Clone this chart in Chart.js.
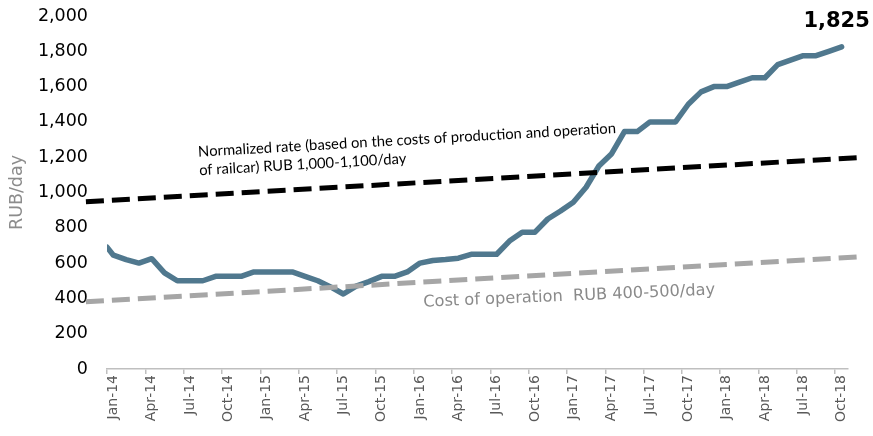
<!DOCTYPE html>
<html>
<head>
<meta charset="utf-8">
<script src="https://cdn.jsdelivr.net/npm/chart.js@4.4.1/dist/chart.umd.min.js"></script>
<style>
  html, body { margin: 0; padding: 0; background: #fff; }
  #wrap { width: 873px; height: 436px; position: relative; }
</style>
</head>
<body>
<div id="wrap"><canvas id="rateChart"></canvas></div>
<script>
// Monthly categories, Jan-14 .. Oct-18
const months = [
  'Jan-14','Feb-14','Mar-14','Apr-14','May-14','Jun-14','Jul-14','Aug-14','Sep-14','Oct-14','Nov-14','Dec-14',
  'Jan-15','Feb-15','Mar-15','Apr-15','May-15','Jun-15','Jul-15','Aug-15','Sep-15','Oct-15','Nov-15','Dec-15',
  'Jan-16','Feb-16','Mar-16','Apr-16','May-16','Jun-16','Jul-16','Aug-16','Sep-16','Oct-16','Nov-16','Dec-16',
  'Jan-17','Feb-17','Mar-17','Apr-17','May-17','Jun-17','Jul-17','Aug-17','Sep-17','Oct-17','Nov-17','Dec-17',
  'Jan-18','Feb-18','Mar-18','Apr-18','May-18','Jun-18','Jul-18','Aug-18','Sep-18','Oct-18'
];

// the line starts half a month before Jan-14
const rateStart = 690;
const rates = [
  645, 620, 600, 625, 545, 500, 500, 500, 525, 525, 525, 550,
  550, 550, 550, 525, 500, 465, 425, 470, 495, 525, 525, 550,
  600, 615, 620, 628, 650, 650, 650, 725, 775, 775, 850, 895,
  945, 1030, 1150, 1220, 1345, 1345, 1400, 1400, 1400, 1500, 1570, 1600,
  1600, 1625, 1650, 1650, 1725, 1750, 1775, 1775, 1800, 1825
];

// dashed reference lines, values at both ends (they run past the plot)
const trendEnds = [-2.15, 58.6];
const normRate = [948, 1199];
const opCost = [381, 637];

const normText = ['Normalized rate (based on the costs of production and operation',
                  'of railcar) RUB 1,000-1,100/day'];
const costText = 'Cost of operation  RUB 400-500/day';

const rateData = [{ x: -0.5, y: rateStart }].concat(rates.map((v, i) => ({ x: i, y: v })));
const toPoints = vals => vals.map((v, i) => ({ x: trendEnds[i], y: v }));

const notes = {
  id: 'notes',
  afterDatasetsDraw(chart) {
    const { ctx, scales: { x, y } } = chart;

    ctx.save();
    ctx.translate(x.getPixelForValue(6.65), y.getPixelForValue(1203));
    ctx.rotate(-3.25 * Math.PI / 180);
    ctx.font = '14.8px Lato';
    ctx.fillStyle = '#000';
    ctx.fillText(normText[0], 0, 0);
    ctx.fillText(normText[1], 0, 18.5);
    ctx.restore();

    ctx.save();
    ctx.translate(x.getPixelForValue(24.27), y.getPixelForValue(353));
    ctx.rotate(-2.4 * Math.PI / 180);
    ctx.font = '16.2px "DejaVu Sans"';
    ctx.fillStyle = '#8a8a8a';
    ctx.fillText(costText, 0, 0);
    ctx.restore();

    // last value label
    const last = rates.length - 1;
    ctx.save();
    ctx.font = 'bold 21px "DejaVu Sans"';
    ctx.fillStyle = '#000';
    ctx.textAlign = 'center';
    ctx.fillText(rates[last].toLocaleString('en-US'),
      x.getPixelForValue(last) - 5, y.getPixelForValue(rates[last]) - 20);
    ctx.restore();
  }
};

new Chart(document.getElementById('rateChart'), {
  type: 'line',
  data: {
    datasets: [
      {
        data: toPoints(normRate),
        borderColor: '#000',
        borderWidth: 5,
        borderDash: [18, 8],
        pointRadius: 0,
        clip: false
      },
      {
        data: toPoints(opCost),
        borderColor: '#a6a6a6',
        borderWidth: 5,
        borderDash: [18, 8],
        pointRadius: 0,
        clip: false
      },
      {
        data: rateData,
        borderColor: '#50788e',
        borderWidth: 5.5,
        borderJoinStyle: 'round',
        borderCapStyle: 'round',
        pointRadius: 0,
        tension: 0
      }
    ]
  },
  options: {
    responsive: true,
    maintainAspectRatio: false,
    animation: false,
    layout: { padding: { top: 16, right: 25, bottom: 0, left: 0 } },
    plugins: {
      legend: { display: false },
      tooltip: { enabled: false }
    },
    scales: {
      x: {
        type: 'linear',
        min: -0.5,
        max: 57.5,
        afterBuildTicks: scale => {
          const t = [];
          for (let i = 0; i < months.length; i += 3) t.push({ value: i - 0.5 });
          scale.ticks = t;
        },
        afterFit: scale => { scale.height = 67; },
        ticks: {
          autoSkip: false,
          maxRotation: 90,
          minRotation: 90,
          labelOffset: 6.5,
          padding: 1,
          color: '#595959',
          font: { family: 'DejaVu Sans', size: 14 },
          callback: v => months[Math.round(v + 0.5)]
        },
        grid: {
          drawOnChartArea: false,
          drawTicks: true,
          tickLength: 5,
          color: '#bfbfbf',
          lineWidth: 1.5
        },
        border: { display: true, color: '#bfbfbf', width: 1.5 }
      },
      y: {
        min: 0,
        max: 2000,
        afterFit: scale => { scale.width = 107; },
        ticks: {
          stepSize: 200,
          padding: 0,
          color: '#000',
          font: { family: 'DejaVu Sans', size: 17.5 },
          callback: v => v.toLocaleString('en-US')
        },
        // hidden grid, tick length only used to push the labels left
        grid: { display: false, drawTicks: true, tickLength: 19 },
        border: { display: false },
        title: {
          display: true,
          text: 'RUB/day',
          color: '#8c8c8c',
          font: { family: 'DejaVu Sans', size: 17.5 },
          padding: { top: 7, bottom: 0 }
        }
      }
    }
  },
  plugins: [notes]
});
</script>
</body>
</html>
